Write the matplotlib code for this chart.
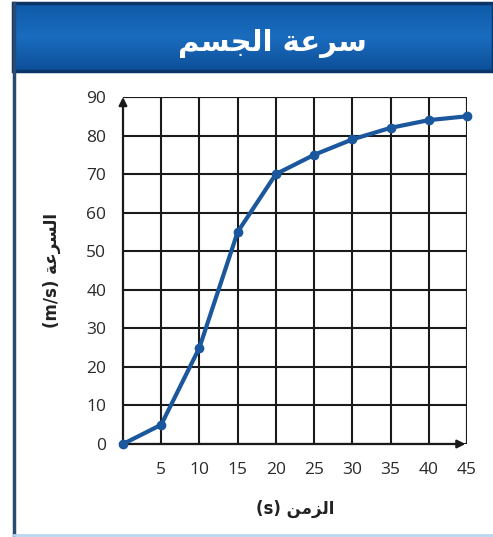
import numpy as np
import matplotlib
matplotlib.use("Agg")
import matplotlib.pyplot as plt
from matplotlib.patches import Rectangle, FancyArrowPatch
from matplotlib.lines import Line2D

# data
time_s = [0, 5, 10, 15, 20, 25, 30, 35, 40, 45]
speed = [0, 5, 25, 55, 70, 75, 79, 82, 84, 85]
x_ticks = [5, 10, 15, 20, 25, 30, 35, 40, 45]
y_ticks = [0, 10, 20, 30, 40, 50, 60, 70, 80, 90]

# Arabic strings pre-shaped (presentation forms, visual order)
title_txt = "\uFEE2\uFEB4\uFEA0\uFEDF\uFE8D \uFE94\uFECB\uFEAE\uFEB3"   # سرعة الجسم
ylab_txt = "(m/s) " + "\uFE94\uFECB\uFEAE\uFEB4\uFEDF\uFE8D"            # السرعة (m/s)
xlab_txt = "(s) " + "\uFEE6\uFEE3\uFEB0\uFEDF\uFE8D"                    # الزمن (s)

W, H = 493, 537
fig = plt.figure(figsize=(W / 100, H / 100), dpi=100)
fig.patch.set_facecolor("white")

def fx(px):
    return px / W

def fy(py):
    return 1 - py / H

# title band with gradient
band = fig.add_axes([fx(13), fy(71), fx(493) - fx(13), fy(3) - fy(71)])
grad = np.linspace(0, 1, 64).reshape(-1, 1)
cmap = matplotlib.colors.LinearSegmentedColormap.from_list(
    "b", ["#0f5aa8", "#1a6cbf", "#0d4f98"])
band.imshow(grad, aspect="auto", cmap=cmap, extent=[0, 1, 0, 1])
band.set_xlim(0, 1); band.set_ylim(0, 1)
band.axis("off")
band.add_patch(Rectangle((0, 0), 1, 1, fill=False, ec="#0b3566", lw=2.5,
                         transform=band.transAxes, clip_on=False))
band.text(0.54, 0.40, title_txt, color="white", fontsize=21, fontweight="bold",
          family=["DejaVu Sans"], ha="center", va="center")

# frame lines
fig.add_artist(Line2D([fx(14), fx(14)], [0, fy(3)], color="#2c4a70", lw=2.5))
fig.add_artist(Line2D([fx(14), 1], [fy(535), fy(535)], color="#b9d7ef", lw=2))

# plot axes
left, right, top, bottom = 123, 467, 97, 444
ax = fig.add_axes([fx(left), fy(bottom), fx(right) - fx(left), fy(top) - fy(bottom)])
ax.set_xlim(0, 45)
ax.set_ylim(0, 90)
ax.set_xticks(x_ticks)
ax.set_yticks(y_ticks)
ax.grid(True, color="#1a1a1a", lw=1.5)
for s in ax.spines.values():
    s.set_visible(False)
ax.tick_params(length=0, labelsize=12.5, labelcolor="#2a2a2a")
ax.tick_params(axis="x", pad=13)
ax.tick_params(axis="y", pad=12)
for lbl in ax.get_xticklabels() + ax.get_yticklabels():
    lbl.set_family("Open Sans")

# axes with arrows
ax.add_artist(FancyArrowPatch((0, 0), (0, 90), arrowstyle="-|>", mutation_scale=12,
                              color="#1a1a1a", lw=1.6, clip_on=False, shrinkA=0, shrinkB=0))
ax.add_artist(FancyArrowPatch((0, 0), (44.8, 0), arrowstyle="-|>", mutation_scale=12,
                              color="#1a1a1a", lw=1.6, clip_on=False, shrinkA=0, shrinkB=0))
ax.plot([45, 45], [0, 90], color="#1a1a1a", lw=1.5)
ax.plot([0, 45], [90, 90], color="#1a1a1a", lw=1.5)

ax.plot(time_s, speed, color="#1a579c", lw=3, marker="o", markersize=6,
        clip_on=False, zorder=5)

ax.set_xlabel(xlab_txt, fontsize=12, fontweight="bold", family=["DejaVu Sans"],
              labelpad=16, color="#222222")
ax.set_ylabel(ylab_txt, fontsize=12, fontweight="bold", family=["DejaVu Sans"],
              labelpad=18, color="#222222")

fig.savefig("out.png", dpi=100)
